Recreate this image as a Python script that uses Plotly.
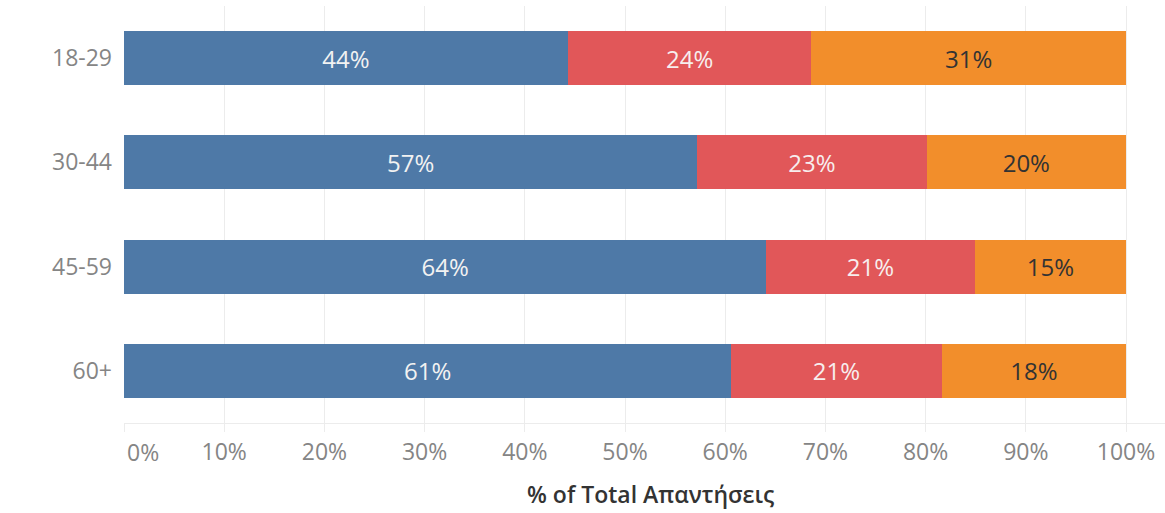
import plotly.graph_objects as go

age_groups = ["18-29", "30-44", "45-59", "60+"]
series_names = ["Απάντηση 1", "Απάντηση 2", "Απάντηση 3"]
share_1 = [0.443, 0.572, 0.641, 0.606]
share_2 = [0.243, 0.229, 0.208, 0.210]
share_3 = [0.314, 0.199, 0.151, 0.184]
x_ticks = [0, 0.1, 0.2, 0.3, 0.4, 0.5, 0.6, 0.7, 0.8, 0.9, 1.0]
x_tick_labels = ["0%", "10%", "20%", "30%", "40%", "50%", "60%", "70%", "80%", "90%", "100%"]

colors = ["#4e79a7", "#e15759", "#f28e2b"]
text_colors = ["#f2f2f2", "#f7eeee", "#333333"]
FONT = "Open Sans"
TICK_COLOR = "#858585"

fig = go.Figure()
for name, vals, c, tc in zip(series_names, [share_1, share_2, share_3], colors, text_colors):
    fig.add_trace(go.Bar(
        y=age_groups, x=vals, name=name, orientation="h",
        marker=dict(color=c, line=dict(width=0)),
        texttemplate="%{x:.0%}", textposition="inside", insidetextanchor="middle",
        textfont=dict(color=tc, size=24, family=FONT),
        constraintext="none",
    ))

fig.update_layout(
    barmode="stack", bargap=0.48,
    width=1165, height=513,
    margin=dict(l=124, r=0, t=6, b=90),
    plot_bgcolor="white", paper_bgcolor="white",
    showlegend=False,
    font=dict(family=FONT),
)
# first tick label is kept inside the pane (left-aligned), as in the reference
fig.update_xaxes(
    range=[0, 1.0389], tickvals=x_ticks,
    ticktext=[""] + x_tick_labels[1:],
    showgrid=True, gridcolor="#ececec", gridwidth=1,
    zeroline=False,
    showline=True, linecolor="#ececec", linewidth=1,
    ticks="outside", ticklen=8, tickcolor="#ececec",
    tickfont=dict(size=23, color=TICK_COLOR, family=FONT),
)
fig.add_annotation(
    text=x_tick_labels[0], xref="x", yref="paper", x=x_ticks[0], y=0,
    xanchor="left", yanchor="middle", xshift=1, yshift=-29,
    showarrow=False, font=dict(size=23, color=TICK_COLOR, family=FONT),
)
fig.update_yaxes(
    categoryorder="array", categoryarray=age_groups, autorange="reversed",
    showgrid=False, zeroline=False, showline=False, ticks="",
    ticklabelstandoff=11,
    tickfont=dict(size=23, color=TICK_COLOR, family=FONT),
)
fig.add_annotation(
    text="% of Total Απαντήσεις", xref="paper", yref="paper",
    x=(650 - 124) / 1041, y=-(494 - 423) / 417, xanchor="center", yanchor="middle",
    showarrow=False, font=dict(size=23, color="#333333", family=FONT, weight=600),
)
fig.write_html(
    "out.html",
    config={"displayModeBar": False},
    post_script="document.body.style.margin='0';document.body.style.padding='0';",
)
